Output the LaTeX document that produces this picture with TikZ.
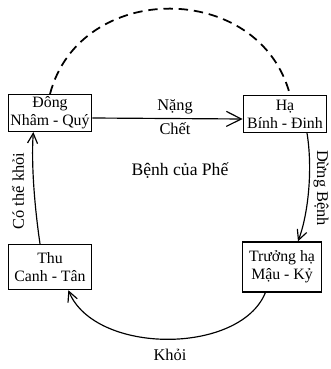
\documentclass[tikz,border=0pt]{standalone}
\usepackage{fontspec}
\setmainfont{Liberation Serif}
\usepackage{tikz}
\usetikzlibrary{arrows.meta, positioning, calc}

\begin{document}
\begin{tikzpicture}[
    x=0.03cm, y=-0.03cm,
    season/.style={rectangle, draw, line width=1.2pt, minimum width=2.5cm, minimum height=1.1cm, inner sep=0.5pt, align=center, font=\fontsize{13.5}{15.5}\selectfont},
    arrow/.style={-{Straight Barb[length=3mm, width=3mm]}, line width=1pt},
    tag/.style={font=\fontsize{14}{16}\selectfont}
]
\useasboundingbox (0,0) rectangle (330,369);
\node[season] (dong) at (50,113) {Đông\\Nhâm - Quý};
\node[season] (ha) at (285,114) {Hạ\\Bính - Đinh};
\node[season, minimum height=1.35cm] (thu) at (50,267) {Thu\\Canh - Tân};
\node[season, minimum width=2.37cm, minimum height=1.5cm] (truong) at (282,267) {Trưởng hạ\\Mậu - Kỷ};
\node[tag, font=\fontsize{15}{17}\selectfont] (phe) at (180,171) {Bệnh của Phế};

\draw[line width=1.5pt, dash pattern=on 8pt off 5pt] (dong.north) .. controls (80,-20) and (260,-20) .. ([xshift=0.15cm]ha.north);
\draw[-{Straight Barb[length=4.5mm, width=4.5mm]}, line width=1pt] ([yshift=-0.15cm]dong.east) -- node[tag, above, pos=0.55] (nang) {Nặng} node[tag, below, pos=0.55] (chet) {Chết} ([yshift=-0.15cm]ha.west);
\draw[arrow] ([xshift=0.66cm]ha.south) .. controls (313,170) and (308,215) .. ([xshift=0.48cm]truong.north);
\draw[arrow] ([xshift=-0.3cm]thu.north) .. controls (35,210) and (31,165) .. ([xshift=-0.5cm]dong.south);
\draw[arrow] ([xshift=-0.5cm]truong.south) .. controls (240,355) and (95,355) .. ([xshift=0.55cm]thu.south);

\node[tag, rotate=-90] (dung) at (321,188) {Dừng Bệnh};
\node[tag, rotate=90] (khoi1) at (18,191) {Có thể khỏi};
\node[tag] (khoi) at (170,355) {Khỏi};
\end{tikzpicture}
\end{document}
